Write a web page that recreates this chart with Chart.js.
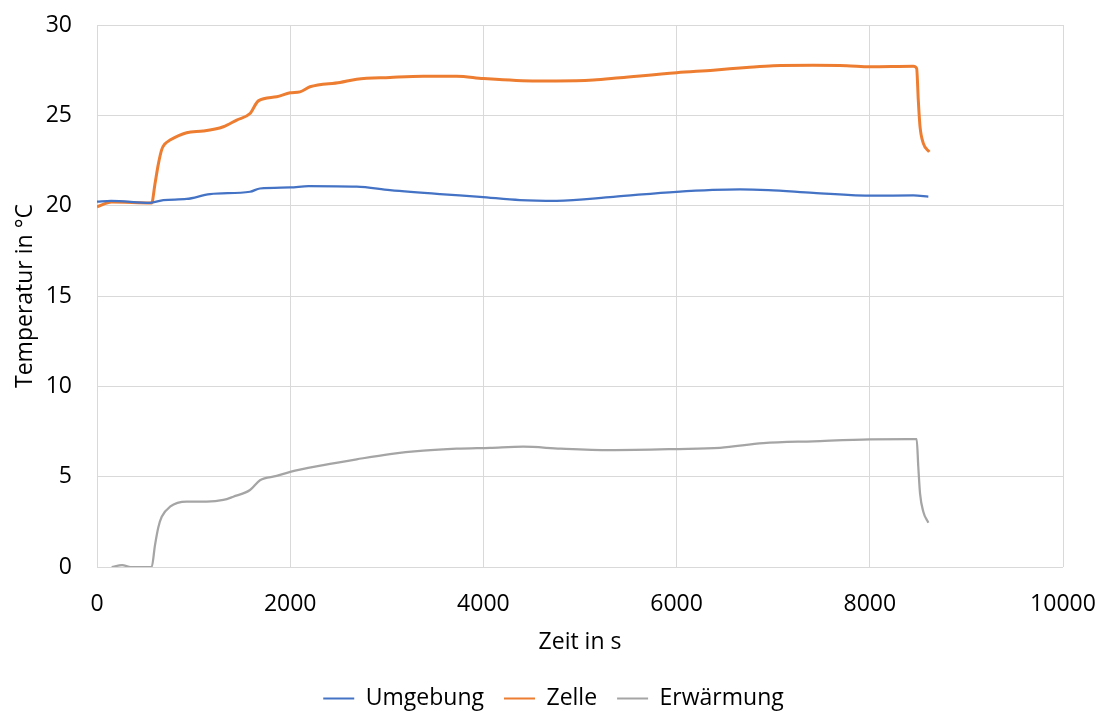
<!DOCTYPE html>
<html>
<head>
<meta charset="utf-8">
<script src="https://cdn.jsdelivr.net/npm/chart.js@4"></script>
<style>
  html, body { margin: 0; padding: 0; background: #fff; }
  #wrap { width: 1104px; height: 711px; }
</style>
</head>
<body>
<div id="wrap"><canvas id="chart" width="1104" height="711"></canvas></div>
<script>
// Umgebung (ambient)
var umgebungZeit = [0, 145, 549, 687, 928, 1170, 1584, 1687, 2000, 2190, 2688, 3033, 3551, 3965, 4379, 4758, 5345, 6001, 6656, 6950, 7415, 8036, 8451, 8606];
var umgebungTemp = [20.22, 20.27, 20.16, 20.31, 20.37, 20.64, 20.77, 20.95, 21.01, 21.08, 21.05, 20.86, 20.64, 20.49, 20.31, 20.27, 20.49, 20.77, 20.9, 20.86, 20.71, 20.55, 20.57, 20.5];

// Zelle (cell)
var zelleZeit = [0, 152, 566, 600, 635, 670, 700, 756, 928, 1100, 1308, 1446, 1584, 1670, 1860, 2000, 2101, 2205, 2516, 2688, 3033, 3378, 3723, 3999, 4551, 4758, 5138, 5414, 6001, 6380, 6725, 7001, 7415, 7760, 8002, 8451, 8485, 8502, 8520, 8554, 8616];
var zelleTemp = [19.94, 20.2, 20.15, 21.2, 22.3, 23.1, 23.4, 23.63, 24.04, 24.13, 24.37, 24.74, 25.1, 25.8, 26.03, 26.25, 26.3, 26.58, 26.82, 27.0, 27.1, 27.17, 27.17, 27.04, 26.9, 26.9, 26.95, 27.08, 27.36, 27.5, 27.65, 27.75, 27.77, 27.75, 27.69, 27.72, 27.6, 25.84, 24.37, 23.45, 22.98];

// Erwärmung (heating)
var erwZeit = [152, 260, 350, 566, 600, 635, 670, 756, 928, 1135, 1308, 1411, 1584, 1687, 1860, 2000, 2343, 2688, 3033, 3378, 3723, 4068, 4413, 4800, 5311, 6001, 6449, 6898, 7415, 8002, 8485, 8502, 8520, 8554, 8606];
var erwTemp = [0, 0.1, 0, 0, 1.2, 2.2, 2.78, 3.34, 3.62, 3.62, 3.71, 3.89, 4.26, 4.8, 5.04, 5.27, 5.64, 5.96, 6.25, 6.44, 6.55, 6.6, 6.66, 6.55, 6.47, 6.53, 6.6, 6.85, 6.96, 7.07, 7.08, 5.55, 4.08, 3.06, 2.45];

function toPoints(xs, ys) {
    return xs.map(function (x, i) { return { x: x, y: ys[i] }; });
}

var fontFamily = "'Open Sans', sans-serif";
var fontSize = 23;
var textColor = "#000";
var gridColor = "#d9d9d9";

var chart = new Chart(document.getElementById("chart"), {
    type: "line",
    data: {
        datasets: [
            {
                label: "Umgebung",
                data: toPoints(umgebungZeit, umgebungTemp),
                borderColor: "#4472c4",
                backgroundColor: "#4472c4",
                borderWidth: 2.25,
            },
            {
                label: "Zelle",
                data: toPoints(zelleZeit, zelleTemp),
                borderColor: "#ed7d31",
                backgroundColor: "#ed7d31",
                borderWidth: 3,
            },
            {
                label: "Erwärmung",
                data: toPoints(erwZeit, erwTemp),
                borderColor: "#a5a5a5",
                backgroundColor: "#a5a5a5",
                borderWidth: 2.25,
            },
        ],
    },
    options: {
        responsive: false,
        animation: false,
        cubicInterpolationMode: "monotone",
        elements: { point: { radius: 0 } },
        layout: { padding: { left: 12, right: 41, top: 25, bottom: 0 } },
        plugins: {
            legend: {
                position: "bottom",
                labels: {
                    font: { family: fontFamily, size: fontSize },
                    color: textColor,
                    boxWidth: 31,
                    boxHeight: 2,
                    padding: 20,
                    generateLabels: function (c) {
                        var items = Chart.defaults.plugins.legend.labels.generateLabels(c);
                        items.forEach(function (it) { it.lineWidth = 0; });
                        return items;
                    },
                },
            },
            tooltip: { enabled: false },
        },
        scales: {
            x: {
                type: "linear",
                min: 0,
                max: 10000,
                afterFit: function (scale) {
                    scale.height = 100;
                    scale.paddingLeft = 0;
                    scale.paddingRight = 0;
                },
                ticks: {
                    stepSize: 2000,
                    font: { family: fontFamily, size: fontSize },
                    color: textColor,
                    padding: 24,
                    maxRotation: 0,
                    callback: function (v) { return String(v); },
                },
                grid: { color: gridColor, drawTicks: false },
                border: { display: false },
                title: {
                    display: true,
                    text: "Zeit in s",
                    font: { family: fontFamily, size: fontSize },
                    color: textColor,
                    padding: { top: 0, bottom: 11 },
                },
            },
            y: {
                min: 0,
                max: 30,
                afterFit: function (scale) {
                    scale.width = 85;
                    scale.paddingTop = 0;
                    scale.paddingBottom = 0;
                },
                ticks: {
                    stepSize: 5,
                    font: { family: fontFamily, size: fontSize },
                    color: textColor,
                    padding: 25,
                    callback: function (v) { return String(v); },
                },
                grid: { color: gridColor, drawTicks: false },
                border: { display: false },
                title: {
                    display: true,
                    text: "Temperatur in °C",
                    font: { family: fontFamily, size: fontSize },
                    color: textColor,
                    padding: { top: 0, bottom: 0 },
                },
            },
        },
    },
    plugins: [
        {
            // centre the legend row on the canvas rather than on the padded box
            id: "shiftLegend",
            afterLayout: function (c) {
                c.legend.left += 16;
                c.legend.right += 16;
            },
        },
    ],
});

// keep the legend strip short so the row sits near the bottom edge
var legendFit = chart.legend.fit;
chart.legend.fit = function () {
    legendFit.call(this);
    this.height = 44;
};
chart.update();
</script>
</body>
</html>
